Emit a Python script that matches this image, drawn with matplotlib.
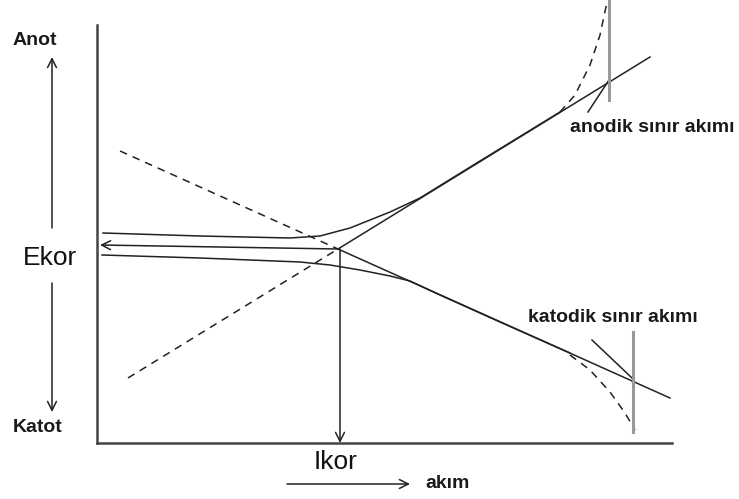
import numpy as np
import matplotlib
matplotlib.use("Agg")
import matplotlib.pyplot as plt

plt.rcParams['font.family'] = ['Liberation Sans', 'DejaVu Sans']

# diagram coordinates (drawing units, y grows downward)
Ekor_point = (338, 249)
anodic_tafel_end = (650, 57)
cathodic_tafel_end = (670, 398)
anodic_ext_start = (128, 378)
cathodic_ext_start = (120, 151)

# measured polarization curves
anodic_curve_x = [103, 200, 290, 320, 350, 390, 420, 480, 560]
anodic_curve_y = [233, 236, 238, 236, 228, 212, 198, 161, 112]
anodic_limit_x = [560, 575, 590, 600, 607]
anodic_limit_y = [112, 95, 65, 35, 2]

cathodic_curve_x = [102, 200, 300, 330, 360, 390, 410, 440, 500, 570]
cathodic_curve_y = [255, 258, 262, 265, 270, 276, 281, 295, 322, 353]
cathodic_limit_x = [570, 590, 610, 625, 635]
cathodic_limit_y = [355, 370, 392, 413, 430]

# limiting current markers
anodic_limit_line = ([588, 609], [112, 80])
cathodic_limit_line = ([592, 632], [340, 378])
anodic_limit_bar = (609, 0, 100)
cathodic_limit_bar = (633, 332, 432)

fig = plt.figure(figsize=(7.39, 4.99), dpi=100)
ax = fig.add_axes([0, 0, 1, 1])
ax.set_xlim(0, 739)
ax.set_ylim(499, 0)
ax.axis('off')

ink = '#222222'
lw = 1.1
dash = (0, (5, 4))

# axes of the diagram
ax.plot([97, 97], [25, 443], color='#444444', lw=1.8)
ax.plot([97, 672], [443, 443], color='#444444', lw=1.8)

# Tafel lines
ax.plot([Ekor_point[0], anodic_tafel_end[0]], [Ekor_point[1], anodic_tafel_end[1]], color=ink, lw=lw)
ax.plot([Ekor_point[0], cathodic_tafel_end[0]], [Ekor_point[1], cathodic_tafel_end[1]], color=ink, lw=lw)
ax.plot([anodic_ext_start[0], Ekor_point[0]], [anodic_ext_start[1], Ekor_point[1]], color=ink, lw=lw, ls=dash)
ax.plot([cathodic_ext_start[0], Ekor_point[0]], [cathodic_ext_start[1], Ekor_point[1]], color=ink, lw=lw, ls=dash)

# polarization curves
ax.plot(anodic_curve_x, anodic_curve_y, color=ink, lw=lw)
ax.plot(anodic_limit_x, anodic_limit_y, color=ink, lw=lw, ls=dash)
ax.plot(cathodic_curve_x, cathodic_curve_y, color=ink, lw=lw)
ax.plot(cathodic_limit_x, cathodic_limit_y, color=ink, lw=lw, ls=dash)

ax.plot(*anodic_limit_line, color=ink, lw=lw)
ax.plot(*cathodic_limit_line, color=ink, lw=lw)
ax.plot([anodic_limit_bar[0]] * 2, anodic_limit_bar[1:], color='#999999', lw=2.2)
ax.plot([cathodic_limit_bar[0]] * 2, cathodic_limit_bar[1:], color='#999999', lw=2.2)

arrow = dict(arrowstyle='->', color=ink, lw=lw, shrinkA=0, shrinkB=0,
             mutation_scale=16)
# Ekor and Ikor arrows
ax.annotate('', xy=(100, 245), xytext=Ekor_point, arrowprops=arrow)
ax.annotate('', xy=(340, 443), xytext=(340, 249), arrowprops=arrow)
# potential and current direction arrows
ax.annotate('', xy=(52, 57), xytext=(52, 228), arrowprops=arrow)
ax.annotate('', xy=(52, 412), xytext=(52, 283), arrowprops=arrow)
ax.annotate('', xy=(410, 484), xytext=(287, 484), arrowprops=arrow)

# labels
bold = dict(fontweight='bold', fontsize=14, color='#1a1a1a')
ax.text(35, 40, 'Anot', ha='center', va='center', **bold)
ax.text(38, 427, 'Katot', ha='center', va='center', **bold)
ax.text(425, 484, 'akım', ha='left', va='center', **bold)
ax.text(570, 127, 'anodik sınır akımı', ha='left', va='center', **bold)
ax.text(528, 318, 'katodik sınır akımı', ha='left', va='center', **bold)
ax.text(50, 258, 'Ekor', ha='center', va='center', fontsize=19, color='#111111')
ax.text(336, 462, 'Ikor', ha='center', va='center', fontsize=19, color='#111111')

fig.savefig('out.png', dpi=100)
